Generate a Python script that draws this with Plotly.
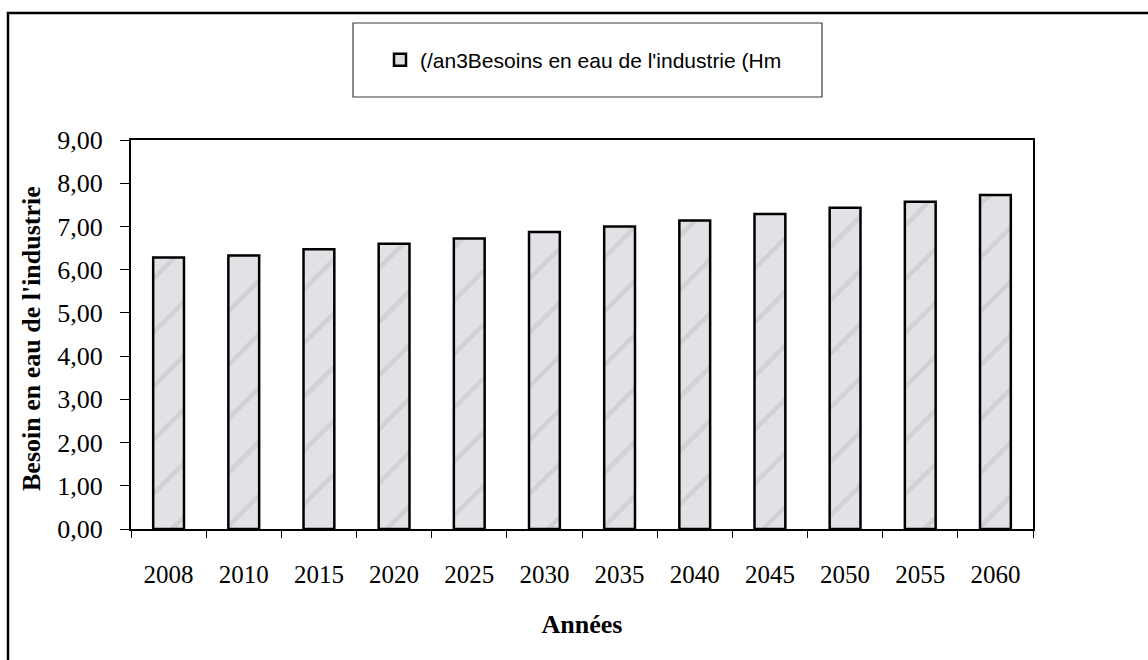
import plotly.graph_objects as go

# Industrial water demand projections (Hm3/year)
years = ["2008", "2010", "2015", "2020", "2025", "2030",
         "2035", "2040", "2045", "2050", "2055", "2060"]
besoins = [6.28, 6.33, 6.47, 6.60, 6.72, 6.87,
           7.00, 7.14, 7.29, 7.43, 7.57, 7.73]
serie_nom = "(/an3Besoins en eau de l'industrie (Hm"
y_titre = "Besoin en eau de l'industrie"
x_titre = "Années"

W, H = 1148, 660
L, R, T, B = 131, 1033, 140, 529  # plot area in pixels


def px_x(v):
    return (v - L) / (R - L)


def px_y(v):
    return (B - v) / (B - T)


serif = "Liberation Serif, Times New Roman, serif"

fig = go.Figure(
    go.Bar(
        x=years,
        y=besoins,
        name=serie_nom,
        width=0.41,
        showlegend=True,
        marker=dict(
            color="#e0e0e4",
            line=dict(color="black", width=2.5),
            pattern=dict(shape="/", fgcolor="#bfbfc5", bgcolor="#e2e2e6",
                         size=38, solidity=0.12),
        ),
    )
)

fig.update_layout(
    width=W,
    height=H,
    margin=dict(l=L, r=W - R, t=T, b=H - B, pad=0, autoexpand=False),
    paper_bgcolor="white",
    plot_bgcolor="white",
    separators=", ",
    showlegend=True,
    legend=dict(
        xref="container", yref="container",
        x=380 / W, xanchor="left",
        y=1 - 60 / H, yanchor="middle",
        font=dict(family="Liberation Sans, Arial, sans-serif", size=21, color="black"),
        bgcolor="rgba(0,0,0,0)",
        borderwidth=0,
    ),
    xaxis=dict(
        type="category",
        showline=True, linecolor="black", linewidth=2, mirror=True,
        ticks="outside", tickson="boundaries", ticklen=7, tickcolor="black", tickwidth=1,
        ticklabelstandoff=22, tickangle=0, automargin=False,
        tickfont=dict(family=serif, size=25, color="black"),
        title=dict(text="<b>" + x_titre + "</b>", standoff=28,
                   font=dict(family=serif, size=26, color="black")),
        showgrid=False,
    ),
    yaxis=dict(
        range=[0, 9], dtick=1, tickformat=".2f",
        showline=True, linecolor="black", linewidth=2, mirror=True,
        ticks="outside", ticklen=9, tickcolor="black", tickwidth=1,
        ticklabelstandoff=12, automargin=False,
        tickfont=dict(family=serif, size=26, color="black"),
        showgrid=False, zeroline=False,
    ),
    annotations=[
        # y-axis title
        dict(text="<b>" + y_titre + "</b>", textangle=-90,
             xref="paper", yref="paper", x=px_x(31), y=px_y(339),
             xanchor="center", yanchor="middle", showarrow=False,
             font=dict(family=serif, size=26, color="black")),
    ],
    shapes=[
        # outer chart frame (only top and left edges fall inside the canvas)
        dict(type="rect", xref="paper", yref="paper",
             x0=px_x(8), x1=px_x(W + 20), y0=px_y(H + 20), y1=px_y(13),
             line=dict(color="black", width=2.5), layer="above"),
        # legend box
        dict(type="rect", xref="paper", yref="paper",
             x0=px_x(353), x1=px_x(822), y0=px_y(97), y1=px_y(23),
             line=dict(color="#3a3a3a", width=1.2), layer="above"),
    ],
)

fig.write_html("out.html")
